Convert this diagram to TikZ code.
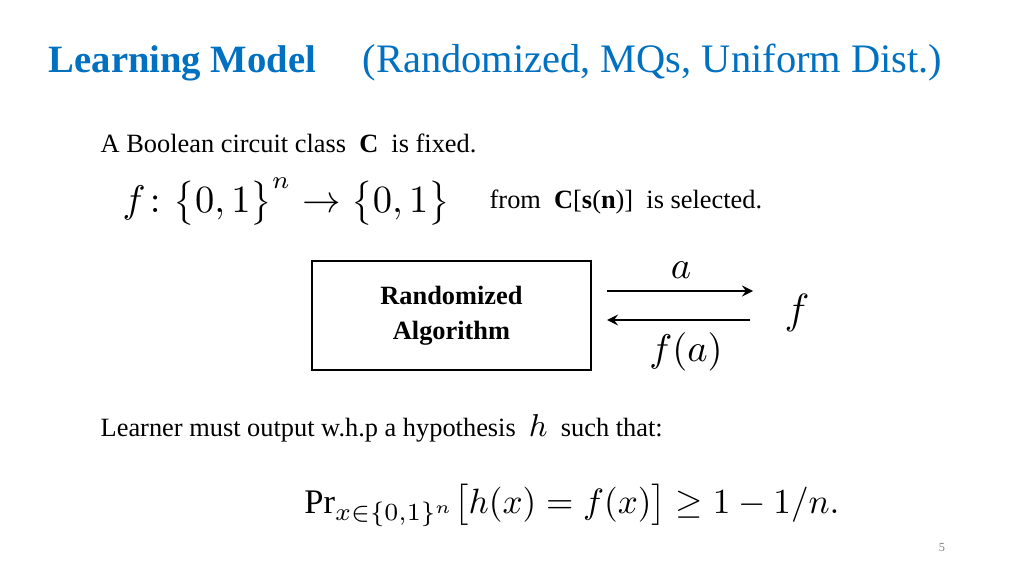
\documentclass[tikz,border=0pt]{standalone}
\usepackage{fontspec}
\setmainfont{Liberation Serif}
\usepackage{amsmath,amssymb}
\definecolor{titleblue}{RGB}{0,112,192}
\begin{document}
\begin{tikzpicture}[x=0.01cm,y=-0.01cm,
  body/.style={anchor=west,inner sep=0,font=\fontsize{7.5}{9}\selectfont},
  mathtxt/.style={inner sep=0,font=\fontsize{10.5}{12}\selectfont},
  arr/.style={-stealth,line width=0.4pt}]
\useasboundingbox (0,0) rectangle (1024,576);
\node[anchor=west,inner sep=0,text=titleblue,font=\fontsize{11}{12}\selectfont] (t1) at (48,63) {\textbf{Learning Model}};
\node[anchor=west,inner sep=0,text=titleblue,font=\fontsize{11.5}{12}\selectfont] (t2) at (362,63) {(Randomized, MQs, Uniform Dist.)};
\node[body] (l1) at (100,143) {A Boolean circuit class \ \textbf{C} \ is fixed.};
\node[mathtxt,anchor=west] (fm) at (122,202) {$f\colon \big\{0,1\big\}^n \rightarrow \big\{0,1\big\}$};
\node[body] (l2) at (489,202) {from \ \textbf{C}[\textbf{s}(\textbf{n})] \ is selected.};
\node[draw,line width=0.4pt,minimum width=279*0.01cm,minimum height=109*0.01cm,inner sep=0,align=center,font=\fontsize{7.5}{10}\selectfont\bfseries] (box) at (451.5,315.5) {Randomized\\Algorithm};
\coordinate (a1) at (607,291); \coordinate (a2) at (753,291);
\coordinate (b1) at (750,320); \coordinate (b2) at (607,320);
\draw[arr] (a1) -- (a2);
\draw[arr] (b1) -- (b2);
\node[mathtxt] (la) at (681,270) {$a$};
\node[mathtxt] (lfa) at (686,352) {$f(a)$};
\node[mathtxt,font=\fontsize{12}{14}\selectfont] (lf) at (797,313) {$f$};
\node[body] (l3) at (100,428) {Learner must output w.h.p a hypothesis \ {\fontsize{9.5}{12}\selectfont$h$} \ such that:};
\node[inner sep=0,font=\fontsize{9.8}{12}\selectfont] (pr) at (572,505) {$\mathrm{Pr}_{x\in\{0,1\}^n}\big[h(x)=f(x)\big]\geq 1-1/n.$};
\node[inner sep=0,text=gray,font=\fontsize{3.5}{4}\selectfont] (pg) at (942,548) {5};
\end{tikzpicture}
\end{document}
